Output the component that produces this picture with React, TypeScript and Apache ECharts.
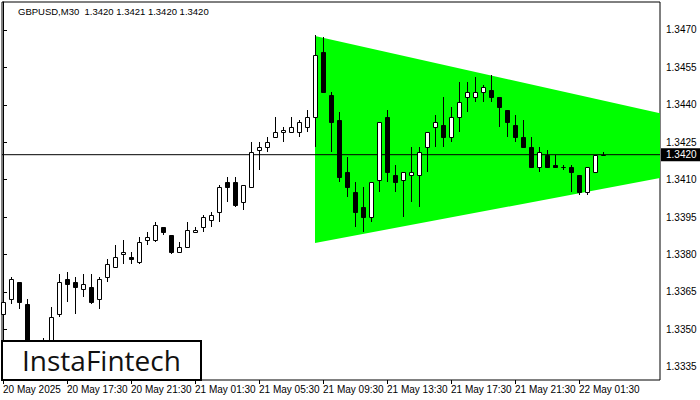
import { useEffect, useRef } from 'react';
import * as echarts from 'echarts';

// 30-minute bars, index 0 = 20 May 2025 13:30
const opens = [
  1.3356, 1.3362, 1.3369, 1.3360, 1.3342, 1.3339, 1.3344, 1.3356, 1.3370, 1.3369,
  1.3366, 1.3367, 1.3362, 1.3371, 1.3375, 1.3380, 1.3379, 1.3377, 1.3386, 1.3386,
  1.3391, 1.3388, 1.3381, 1.3383, 1.3389, 1.3391, 1.3394, 1.3397, 1.3409, 1.3409,
  1.3401, 1.3407, 1.3422, 1.3423, 1.3427, 1.3429, 1.3429, 1.3429, 1.3431, 1.3435,
  1.3461, 1.3444, 1.3434, 1.3413, 1.3405, 1.3399, 1.3395, 1.3410, 1.3435, 1.3412,
  1.3410, 1.3412, 1.3412, 1.3423, 1.3431, 1.3432, 1.3427, 1.3435, 1.3443, 1.3443,
  1.3445, 1.3446, 1.3443, 1.3438, 1.3432, 1.3427, 1.3423, 1.3415, 1.3420, 1.3416,
  1.3415, 1.3415, 1.3412, 1.3405, 1.3413, 1.3420,
];
const highs = [
  1.3367, 1.3371, 1.3369, 1.3362, 1.3345, 1.33465, 1.3359, 1.3372, 1.3373, 1.3371,
  1.3372, 1.3372, 1.3371, 1.3378, 1.3384, 1.3386, 1.3381, 1.3387, 1.3389, 1.3393,
  1.3391, 1.3388, 1.3385, 1.3393, 1.3391, 1.3396, 1.3397, 1.3408, 1.3411, 1.3411,
  1.3408, 1.3425, 1.3425, 1.3427, 1.3435, 1.3431, 1.3435, 1.3434, 1.3438, 1.3468,
  1.3467, 1.3445, 1.3437, 1.3419, 1.3409, 1.3407, 1.3409, 1.3433, 1.3438, 1.3416,
  1.3413, 1.3423, 1.3423, 1.3429, 1.3436, 1.3443, 1.3439, 1.3449, 1.3449, 1.3451,
  1.3448, 1.3452, 1.3443, 1.3438, 1.3436, 1.3434, 1.3427, 1.3423, 1.3422, 1.3420,
  1.3416, 1.3416, 1.3412, 1.3415, 1.3420, 1.3421,
];
const lows = [
  1.3353, 1.3360, 1.3358, 1.3338, 1.3334, 1.3336, 1.3342, 1.3355, 1.3361, 1.3356,
  1.3363, 1.3360, 1.3358, 1.3369, 1.3375, 1.3376, 1.3376, 1.3376, 1.3384, 1.3385,
  1.3388, 1.3380, 1.3381, 1.3383, 1.3389, 1.3389, 1.3391, 1.3393, 1.3401, 1.3399,
  1.3398, 1.3407, 1.3414, 1.3421, 1.3427, 1.3425, 1.3429, 1.3427, 1.3429, 1.3423,
  1.3445, 1.3421, 1.3409, 1.3403, 1.3391, 1.3389, 1.3393, 1.3405, 1.3409, 1.3405,
  1.3395, 1.3401, 1.3399, 1.3413, 1.3423, 1.3423, 1.3425, 1.3429, 1.3437, 1.3441,
  1.3441, 1.3441, 1.3431, 1.3427, 1.3425, 1.3423, 1.3415, 1.3413, 1.3415, 1.3415,
  1.3414, 1.3405, 1.3404, 1.3404, 1.3413, 1.3420,
];
const closes = [
  1.3361, 1.3370, 1.3361, 1.3342, 1.3339, 1.3344, 1.3355, 1.3369, 1.3368, 1.3367,
  1.3368, 1.3361, 1.3370, 1.3376, 1.3379, 1.3381, 1.3378, 1.3385, 1.3387, 1.3392,
  1.3389, 1.3381, 1.3383, 1.3390, 1.3390, 1.3395, 1.3396, 1.3407, 1.3407, 1.3400,
  1.3408, 1.3421, 1.3423, 1.3425, 1.3429, 1.3430, 1.3431, 1.3433, 1.3435, 1.3460,
  1.3445, 1.3433, 1.3411, 1.3407, 1.3397, 1.3395, 1.3409, 1.3433, 1.3413, 1.3409,
  1.3413, 1.3413, 1.3421, 1.3429, 1.3433, 1.3427, 1.3435, 1.3441, 1.3445, 1.3445,
  1.3447, 1.3443, 1.3439, 1.3433, 1.3427, 1.3423, 1.3415, 1.3421, 1.3415, 1.3415,
  1.3415, 1.3413, 1.3405, 1.3415, 1.3420, 1.3420,
];

const xTickIndex = [0, 8, 16, 24, 32, 40, 48, 56, 64, 72];
const xTickLabels = [
  '20 May 2025', '20 May 17:30', '20 May 21:30', '21 May 01:30', '21 May 05:30',
  '21 May 09:30', '21 May 13:30', '21 May 17:30', '21 May 21:30', '22 May 01:30',
];
const yTickValues = [1.3335, 1.335, 1.3365, 1.338, 1.3395, 1.341, 1.3425, 1.344, 1.3455, 1.347];

// symmetrical triangle pattern: [bar index, upper price, lower price] and apex [bar index, price]
const triangleStart = [39, 1.34676, 1.33846];
const triangleApex = [101.7, 1.34225];

const currentPrice = 1.342;
const xMin = -0.125;
const xMax = 82.125;
const headerText = 'GBPUSD,M30  1.3420 1.3421 1.3420 1.3420';
const FONT = '"Liberation Sans", Arial, sans-serif';

export default function App() {
  const ref = useRef<HTMLDivElement>(null);

  useEffect(() => {
    if (!ref.current) return;
    const chart = echarts.init(ref.current, undefined, { renderer: 'svg' });

    const candleData = opens.map((o, i) => [i, o, closes[i], lows[i], highs[i]]);

    const option: any = {
      animation: false,
      backgroundColor: '#fff',
      grid: {
        left: 2,
        right: 40,
        top: 2,
        bottom: 20,
        show: true,
        borderColor: '#000',
        borderWidth: 1,
        backgroundColor: 'transparent',
      },
      xAxis: {
        type: 'value',
        min: xMin,
        max: xMax,
        axisLine: { show: false },
        splitLine: { show: false },
        axisTick: {
          show: true,
          customValues: xTickIndex,
          length: 4,
          lineStyle: { color: '#000' },
        },
        axisLabel: {
          customValues: xTickIndex,
          formatter: (v: number) => {
            const k = xTickIndex.indexOf(Math.round(v));
            return k >= 0 ? xTickLabels[k] : '';
          },
          align: 'left',
          margin: 4,
          fontSize: 10,
          fontFamily: FONT,
          color: '#000',
        },
      },
      yAxis: {
        type: 'value',
        position: 'right',
        min: 1.33297,
        max: 1.34812,
        axisLine: { show: true, lineStyle: { color: '#000' } },
        splitLine: { show: false },
        axisTick: {
          show: true,
          customValues: yTickValues,
          length: 4,
          lineStyle: { color: '#000' },
        },
        axisLabel: {
          customValues: yTickValues,
          formatter: (v: number) => v.toFixed(4),
          margin: 6,
          fontSize: 10,
          fontFamily: FONT,
          color: '#000',
        },
      },
      series: [
        {
          type: 'custom',
          name: 'triangle',
          z: 1,
          silent: true,
          data: [[triangleStart[0], triangleStart[1], triangleStart[2], triangleApex[0], triangleApex[1]]],
          renderItem: (params: any, api: any) => {
            const a = api.coord([api.value(0), api.value(1)]);
            const b = api.coord([api.value(0), api.value(2)]);
            const c = api.coord([api.value(3), api.value(4)]);
            const cs = params.coordSys;
            const xr = cs.x + cs.width;
            let pts: number[][];
            if (c[0] > xr) {
              const t1 = (xr - a[0]) / (c[0] - a[0]);
              const t2 = (xr - b[0]) / (c[0] - b[0]);
              pts = [a, [xr, a[1] + (c[1] - a[1]) * t1], [xr, b[1] + (c[1] - b[1]) * t2], b];
            } else {
              pts = [a, c, b];
            }
            return { type: 'polygon', shape: { points: pts }, style: { fill: '#00ff00' } };
          },
        },
        {
          type: 'line',
          name: 'price',
          z: 5,
          silent: true,
          symbol: 'none',
          data: [[xMin, currentPrice], [xMax, currentPrice]],
          lineStyle: { color: '#000', width: 1, type: 'solid' },
          endLabel: {
            show: true,
            distance: 1,
            formatter: currentPrice.toFixed(4),
            backgroundColor: '#000',
            color: '#fff',
            padding: [2, 6, 1, 5],
            fontSize: 10,
            fontFamily: FONT,
          },
        },
        {
          type: 'custom',
          name: 'GBPUSD',
          z: 10,
          silent: true,
          data: candleData,
          renderItem: (_params: any, api: any) => {
            const x = api.value(0);
            const o = api.value(1);
            const c = api.value(2);
            const l = api.value(3);
            const h = api.value(4);
            const pO = api.coord([x, o]);
            const pC = api.coord([x, c]);
            const pL = api.coord([x, l]);
            const pH = api.coord([x, h]);
            const cx = Math.round(pO[0]);
            const top = Math.round(Math.min(pO[1], pC[1]));
            const bot = Math.round(Math.max(pO[1], pC[1]));
            const bull = c >= o;
            return {
              type: 'group',
              children: [
                {
                  type: 'line',
                  shape: { x1: cx + 0.5, y1: Math.round(pH[1]), x2: cx + 0.5, y2: Math.round(pL[1]) },
                  style: { stroke: '#000', lineWidth: 1 },
                },
                {
                  type: 'rect',
                  shape: { x: cx - 1.5, y: top + 0.5, width: 4, height: Math.max(bot - top, 0) },
                  style: { fill: bull ? '#fff' : '#000', stroke: '#000', lineWidth: 1 },
                },
              ],
            };
          },
        },
      ],
      graphic: [
        {
          type: 'text',
          left: 18,
          top: 6,
          z: 100,
          style: { text: headerText, fontSize: 9.5, fontFamily: FONT, fill: '#000' },
        },
        {
          type: 'group',
          z: 100,
          children: [
            {
              type: 'rect',
              shape: { x: 2, y: 341, width: 199, height: 39 },
              style: { fill: '#fff', stroke: '#000', lineWidth: 2 },
              z: 100,
            },
            {
              type: 'text',
              x: 22,
              y: 360,
              z: 101,
              style: {
                text: 'InstaFintech',
                fontSize: 28,
                fontFamily: '"Open Sans", sans-serif',
                fill: '#111',
                verticalAlign: 'middle',
              },
            },
          ],
        },
      ],
    };

    chart.setOption(option);
    return () => chart.dispose();
  }, []);

  return (
    <div
      ref={ref}
      style={{ position: 'fixed', left: 0, top: 0, width: 700, height: 400, background: '#fff' }}
    />
  );
}
